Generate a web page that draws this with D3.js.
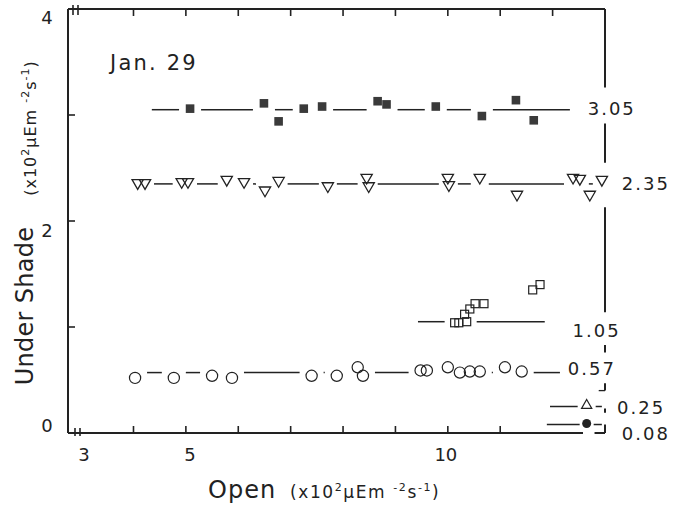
<!DOCTYPE html>
<html>
<head>
<meta charset="utf-8">
<script src="https://cdn.jsdelivr.net/npm/d3@7"></script>
<style>
  html, body { margin: 0; padding: 0; background: #fff; }
  svg { display: block; }
  text { font-family: "DejaVu Sans", "Liberation Sans", sans-serif; fill: #222; }
</style>
</head>
<body>
<svg id="chart" width="674" height="515"></svg>
<script>
// ---------------- data ----------------
const title = "Jan. 29";
const xTickLabels = [3, 5, 10];
const yTickLabels = [0, 2, 4];
const xTicksTop = [4, 5, 6, 7, 8, 9, 10, 11, 12];
const xTicksBottom = [4, 5, 6, 7, 8, 9, 10, 11];
const yTicks = [1, 2, 3];

// filled squares (level 3.05)
const sqFilledX = [5.08, 6.49, 6.77, 7.25, 7.60, 8.66, 8.83, 9.77, 10.65, 11.30, 11.64];
const sqFilledY = [3.06, 3.11, 2.94, 3.06, 3.08, 3.13, 3.10, 3.08, 2.99, 3.14, 2.95];
// open down-triangles (level 2.35)
const triDownX = [4.08, 4.22, 4.92, 5.04, 5.78, 6.11, 6.51, 6.77, 7.71, 8.45, 8.49, 10.00, 10.02, 10.61, 11.32, 12.39, 12.52, 12.71, 12.94];
const triDownY = [2.36, 2.36, 2.37, 2.37, 2.39, 2.37, 2.29, 2.38, 2.33, 2.41, 2.33, 2.41, 2.34, 2.41, 2.25, 2.41, 2.40, 2.25, 2.39];
// open squares (level 1.05)
const sqOpenX = [10.13, 10.21, 10.36, 10.32, 10.42, 10.52, 10.69, 11.62, 11.76];
const sqOpenY = [1.04, 1.04, 1.05, 1.12, 1.17, 1.22, 1.22, 1.35, 1.40];
// open circles (level 0.57)
const circOpenX = [4.03, 4.77, 5.50, 5.88, 7.40, 7.88, 8.28, 8.38, 9.48, 9.60, 10.00, 10.23, 10.42, 10.61, 11.09, 11.41];
const circOpenY = [0.52, 0.52, 0.54, 0.52, 0.54, 0.54, 0.62, 0.54, 0.59, 0.59, 0.62, 0.57, 0.58, 0.58, 0.62, 0.58];
// open up-triangle (level 0.25)
const triUpX = [12.65];
const triUpY = [0.26];
// filled circle (level 0.08)
const circFilledX = [12.65];
const circFilledY = [0.09];

// mean levels and extent of each horizontal line
const levels = [3.05, 2.35, 1.05, 0.57, 0.25, 0.08];
const levelLabels = ["3.05", "2.35", "1.05", "0.57", "0.25", "0.08"];
const levelStart = [4.35, 4.08, 9.43, 4.03, 11.95, 11.89];
const levelEnd = [12.33, 12.94, 11.85, 12.14, 12.94, 12.94];

// ---------------- layout ----------------
const W = 674, H = 515;
const ink = "#222";
const x = d3.scaleLinear().domain([2.75, 13]).range([68, 605]);
const y = d3.scaleLinear().domain([0, 4]).range([433, 9]);

const labelX = [12.67, 13.32, 12.38, 12.29, 13.23, 13.32];
const labelDy = [5, 6, 15, 2, 7.5, 15.5];

const svg = d3.select("#chart");
svg.append("rect").attr("width", W).attr("height", H).attr("fill", "#fff");

const g = svg.append("g");

// ---- frame ----
const frame = g.append("g").attr("stroke", ink).attr("fill", "none").attr("stroke-width", 2);
frame.append("line").attr("x1", x(2.75)).attr("x2", x(2.75)).attr("y1", y(4)).attr("y2", y(0));
frame.append("line").attr("x1", x(2.75)).attr("x2", x(13)).attr("y1", y(4)).attr("y2", y(4));
frame.append("line").attr("x1", x(2.75)).attr("x2", x(12.58)).attr("y1", y(0)).attr("y2", y(0));
frame.append("line").attr("x1", x(12.8)).attr("x2", x(13)).attr("y1", y(0)).attr("y2", y(0));

const rightSolid = [[4, 3.26], [2.92, 2.55], [2.13, 1.14]];
const rightDashed = [[0.83, 0.76], [0.47, 0.40], [0.23, 0.19], [0.08, 0]];
rightSolid.concat(rightDashed).forEach(s => {
  frame.append("line").attr("x1", x(13)).attr("x2", x(13)).attr("y1", y(s[0])).attr("y2", y(s[1]));
});
frame.append("line").attr("x1", x(12.88)).attr("x2", x(13)).attr("y1", y(0.40)).attr("y2", y(0.40)).attr("stroke-width", 1.3);

// axis breaks
[0, 5].forEach(dx => {
  frame.append("line").attr("x1", x(2.75) + 5 + dx).attr("x2", x(2.75) + 5 + dx)
    .attr("y1", y(4) - 4).attr("y2", y(4) + 6).attr("stroke-width", 1.6);
  frame.append("line").attr("x1", x(2.75) + 7 + dx).attr("x2", x(2.75) + 7 + dx)
    .attr("y1", y(0) - 5).attr("y2", y(0) + 3).attr("stroke-width", 1.6);
});

// ticks
const tk = g.append("g").attr("stroke", ink).attr("stroke-width", 1.6);
xTicksTop.forEach(v => tk.append("line").attr("x1", x(v)).attr("x2", x(v)).attr("y1", y(4)).attr("y2", y(4) + 7));
xTicksBottom.forEach(v => tk.append("line").attr("x1", x(v)).attr("x2", x(v)).attr("y1", y(0)).attr("y2", y(0) - 7));
yTicks.forEach(v => tk.append("line").attr("x1", x(2.75)).attr("x2", x(2.75) + 7).attr("y1", y(v)).attr("y2", y(v)));

// tick labels
const xLabOff = [3, 4, -2];
xTickLabels.forEach((v, i) => {
  g.append("text").attr("x", x(v) + xLabOff[i]).attr("y", 461).attr("text-anchor", "middle")
    .attr("font-size", 18).text(v);
});
const yLabOff = [-1, 16, 15];
yTickLabels.forEach((v, i) => {
  g.append("text").attr("x", 47).attr("y", y(v) + yLabOff[i]).attr("text-anchor", "middle")
    .attr("font-size", 18).text(v);
});

// title
g.append("text").attr("x", 110).attr("y", 70).attr("font-size", 21).attr("letter-spacing", 2.2).text(title);

// axis titles
const xt = g.append("text").attr("x", 208).attr("y", 498).attr("font-size", 24).attr("letter-spacing", 1);
xt.append("tspan").text("Open");
const xt2 = g.append("text").attr("x", 290).attr("y", 498).attr("font-size", 17).attr("letter-spacing", 1.6);
function units(t) {
  t.append("tspan").text("(x10");
  t.append("tspan").attr("dy", -7).attr("font-size", 11).text("2");
  t.append("tspan").attr("dy", 7).text("µEm ");
  t.append("tspan").attr("dy", -7).attr("font-size", 11).text("-2");
  t.append("tspan").attr("dy", 7).text("s");
  t.append("tspan").attr("dy", -7).attr("font-size", 11).text("-1");
  t.append("tspan").attr("dy", 7).text(")");
}
units(xt2);

g.append("text").attr("transform", "translate(33,306) rotate(-90)").attr("text-anchor", "middle")
  .attr("font-size", 24).attr("letter-spacing", 0.3).text("Under Shade");
const yt2 = g.append("text").attr("transform", "translate(36,128) rotate(-90)").attr("text-anchor", "middle")
  .attr("font-size", 16).attr("letter-spacing", 1);
units(yt2);

// ---------------- horizontal level lines with gaps at markers ----------------
const series = [
  { xs: sqFilledX, ys: sqFilledY, gap: 11 },
  { xs: triDownX, ys: triDownY, gap: 9 },
  { xs: sqOpenX, ys: sqOpenY, gap: 10 },
  { xs: circOpenX, ys: circOpenY, gap: 12 },
  { xs: triUpX, ys: triUpY, gap: 9 },
  { xs: circFilledX, ys: circFilledY, gap: 7 }
];

const lines = g.append("g").attr("stroke", ink).attr("stroke-width", 1.5);
levels.forEach((lv, i) => {
  const s = series[i];
  const ly = y(lv);
  const x0 = x(levelStart[i]), x1 = x(levelEnd[i]);
  const cuts = s.xs.map((v, j) => ({ px: x(v), py: y(s.ys[j]) }))
    .filter(d => Math.abs(d.py - ly) < 9)
    .map(d => [d.px - s.gap, d.px + s.gap])
    .sort((a, b) => a[0] - b[0]);
  let cur = x0;
  const segs = [];
  cuts.forEach(c => {
    if (c[0] > cur) segs.push([cur, Math.min(c[0], x1)]);
    cur = Math.max(cur, c[1]);
  });
  if (cur < x1) segs.push([cur, x1]);
  segs.filter(sg => sg[1] - sg[0] > 1).forEach(sg => {
    lines.append("line").attr("x1", sg[0]).attr("x2", sg[1]).attr("y1", ly).attr("y2", ly);
  });
  g.append("text").attr("x", x(labelX[i])).attr("y", ly + labelDy[i])
    .attr("font-size", 18).attr("letter-spacing", 2).text(levelLabels[i]);
});

// ---------------- markers ----------------
const mk = g.append("g");
sqFilledX.forEach((v, j) => {
  mk.append("rect").attr("x", x(v) - 4.3).attr("y", y(sqFilledY[j]) - 4.3)
    .attr("width", 8.6).attr("height", 8.6).attr("fill", "#3a3a3a");
});
const triD = d3.symbol().type(d3.symbolTriangle).size(55);
triDownX.forEach((v, j) => {
  mk.append("path").attr("d", triD()).attr("transform", `translate(${x(v)},${y(triDownY[j])}) rotate(180)`)
    .attr("fill", "none").attr("stroke", ink).attr("stroke-width", 1.3);
});
sqOpenX.forEach((v, j) => {
  mk.append("rect").attr("x", x(v) - 4).attr("y", y(sqOpenY[j]) - 4)
    .attr("width", 8).attr("height", 8).attr("fill", "none").attr("stroke", ink).attr("stroke-width", 1.2);
});
circOpenX.forEach((v, j) => {
  mk.append("circle").attr("cx", x(v)).attr("cy", y(circOpenY[j])).attr("r", 5.6)
    .attr("fill", "none").attr("stroke", ink).attr("stroke-width", 1.2);
});
const triU = d3.symbol().type(d3.symbolTriangle).size(45);
triUpX.forEach((v, j) => {
  mk.append("path").attr("d", triU()).attr("transform", `translate(${x(v)},${y(triUpY[j])})`)
    .attr("fill", "none").attr("stroke", ink).attr("stroke-width", 1.2);
});
circFilledX.forEach((v, j) => {
  mk.append("circle").attr("cx", x(v)).attr("cy", y(circFilledY[j])).attr("r", 4.5).attr("fill", "#222");
});
</script>
</body>
</html>
